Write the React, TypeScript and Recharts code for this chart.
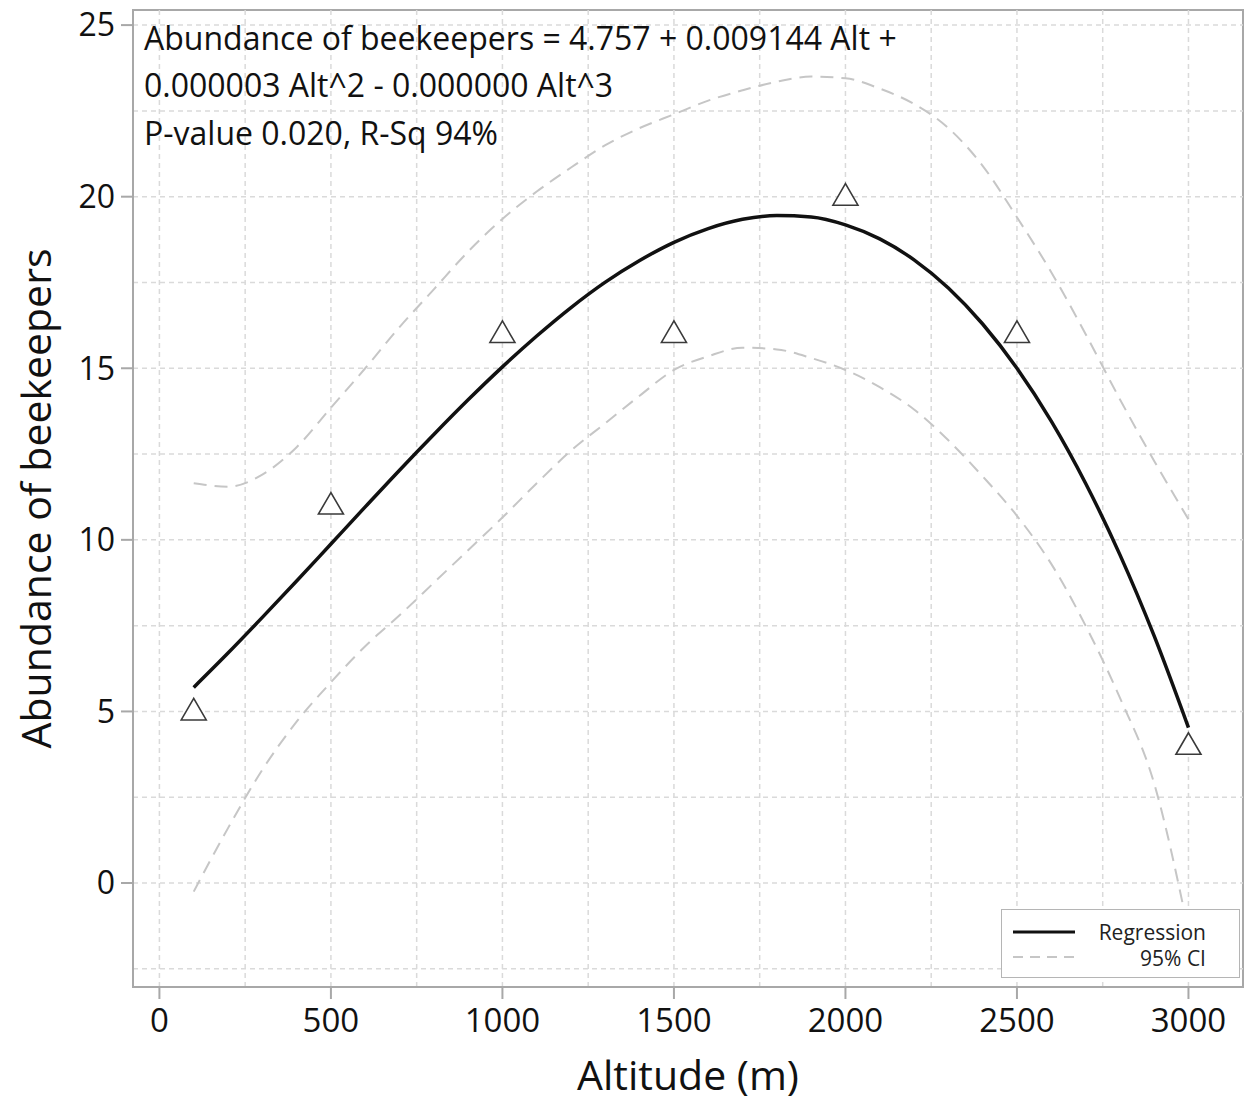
import React from "react";
import {
  ComposedChart,
  Line,
  Scatter,
  XAxis,
  YAxis,
  ReferenceLine,
  ReferenceArea,
} from "recharts";

// fitted curve, every 100 m
const altGrid = [
  100, 200, 300, 400, 500, 600, 700, 800, 900, 1000, 1100, 1200, 1300, 1400, 1500,
  1600, 1700, 1800, 1900, 2000, 2100, 2200, 2300, 2400, 2500, 2600, 2700, 2800, 2900, 3000,
];
const regression = [
  5.7, 6.7, 7.74, 8.8, 9.88, 10.96, 12.03, 13.07, 14.08, 15.04, 15.94, 16.77, 17.51, 18.14, 18.67,
  19.07, 19.34, 19.45, 19.41, 19.18, 18.77, 18.16, 17.34, 16.29, 15.0, 13.46, 11.65, 9.57, 7.2, 4.53,
];
const ciUpper = [
  11.65, 11.55, 11.9, 12.7, 13.85, 15.0, 16.2, 17.3, 18.4, 19.35, 20.15, 20.85, 21.5, 22.0, 22.4,
  22.8, 23.1, 23.35, 23.5, 23.45, 23.15, 22.7, 22.0, 20.9, 19.4, 17.8, 16.0, 14.1, 12.3, 10.6,
];
const ciLower = [
  -0.25, 1.6, 3.3, 4.7, 5.85, 6.9, 7.8, 8.75, 9.7, 10.65, 11.65, 12.6, 13.4, 14.2, 14.95,
  15.35, 15.6, 15.55, 15.3, 14.95, 14.45, 13.8, 12.9, 11.85, 10.7, 9.3, 7.5, 5.4, 2.9, -1.4,
];

// observed points
const pointAlt = [100, 500, 1000, 1500, 2000, 2500, 3000];
const pointAbundance = [5, 11, 16, 16, 20, 16, 4];

const xTicks = [0, 500, 1000, 1500, 2000, 2500, 3000];
const yTicks = [0, 5, 10, 15, 20, 25];
const xGrid = [0, 250, 500, 750, 1000, 1250, 1500, 1750, 2000, 2250, 2500, 2750, 3000];
const yGrid = [-2.5, 0, 2.5, 5, 7.5, 10, 12.5, 15, 17.5, 20, 22.5, 25];
const xDomain = [-77, 3159];
const yDomain = [-3.03, 25.44];

const equationLines = [
  "Abundance of beekeepers = 4.757 + 0.009144 Alt +",
  "0.000003 Alt^2 - 0.000000 Alt^3",
  "P-value 0.020, R-Sq 94%",
];

const curveRows = altGrid.map((alt, i) => ({
  alt,
  fit: regression[i],
  upper: ciUpper[i],
  lower: ciLower[i],
}));
const pointRows = pointAlt.map((alt, i) => ({ alt, y: pointAbundance[i] }));

const FONT = "'Open Sans', 'Noto Sans', sans-serif";
const AXIS_GRAY = "#a8a8a8";

const Triangle = (props: any) => {
  const { cx, cy } = props;
  return (
    <polygon
      points={`${cx},${cy - 13} ${cx - 12.5},${cy + 8.5} ${cx + 12.5},${cy + 8.5}`}
      fill="#fff"
      stroke="#3a3a3a"
      strokeWidth={1.6}
    />
  );
};

const YTitle = (props: any) => {
  const { viewBox } = props;
  const cx = 35;
  const cy = viewBox.y + viewBox.height / 2;
  return (
    <text
      x={cx}
      y={cy}
      transform={`rotate(-90, ${cx}, ${cy})`}
      textAnchor="middle"
      dominantBaseline="central"
      fill="#111"
      fontSize={41}
      fontFamily={FONT}
    >
      Abundance of beekeepers
    </text>
  );
};

export default function App() {
  return (
    <div style={{ position: "absolute", left: 0, top: 0, width: 1251, height: 1101, background: "#fff" }}>
      <ComposedChart
        width={1251}
        height={1101}
        margin={{ top: 10, right: 8, bottom: 0, left: 0 }}
        style={{ fontFamily: FONT }}
      >
        <XAxis
          type="number"
          dataKey="alt"
          domain={xDomain}
          ticks={xTicks}
          interval={0}
          allowDataOverflow
          height={114}
          tickSize={12}
          tickMargin={10}
          stroke={AXIS_GRAY}
          strokeWidth={2}
          tick={{ fill: "#111", fontSize: 33 }}
          label={{ value: "Altitude (m)", position: "insideBottom", offset: 11, fill: "#111", fontSize: 41 }}
        />
        <YAxis
          type="number"
          domain={yDomain}
          ticks={yTicks}
          interval={0}
          allowDataOverflow
          width={133}
          tickSize={12}
          tickMargin={6}
          stroke={AXIS_GRAY}
          strokeWidth={2}
          tick={{ fill: "#111", fontSize: 32 }}
          label={<YTitle />}
        />
        {xGrid.map((v) => (
          <ReferenceLine key={"gx" + v} x={v} stroke="#dadada" strokeWidth={1.5} strokeDasharray="5 4" />
        ))}
        {yGrid.map((v) => (
          <ReferenceLine key={"gy" + v} y={v} stroke="#dadada" strokeWidth={1.5} strokeDasharray="5 4" />
        ))}
        <ReferenceArea
          x1={xDomain[0]}
          x2={xDomain[1]}
          y1={yDomain[0]}
          y2={yDomain[1]}
          fill="none"
          stroke={AXIS_GRAY}
          strokeWidth={2}
        />
        <Line
          data={curveRows}
          dataKey="upper"
          type="monotone"
          stroke="#c6c6c6"
          strokeWidth={2}
          strokeDasharray="13 8"
          dot={false}
          isAnimationActive={false}
        />
        <Line
          data={curveRows}
          dataKey="lower"
          type="monotone"
          stroke="#c6c6c6"
          strokeWidth={2}
          strokeDasharray="13 8"
          dot={false}
          isAnimationActive={false}
        />
        <Line
          data={curveRows}
          dataKey="fit"
          type="monotone"
          stroke="#111"
          strokeWidth={3.5}
          dot={false}
          isAnimationActive={false}
        />
        <Scatter data={pointRows} dataKey="y" shape={<Triangle />} isAnimationActive={false} />
      </ComposedChart>

      {equationLines.map((t, i) => (
        <div
          key={t}
          style={{
            position: "absolute",
            left: 144,
            top: [18, 65, 113][i],
            fontFamily: FONT,
            fontSize: 32,
            lineHeight: "40px",
            color: "#111",
            whiteSpace: "nowrap",
          }}
        >
          {t}
        </div>
      ))}

      <div
        style={{
          position: "absolute",
          left: 1001,
          top: 909,
          width: 237,
          height: 67,
          background: "#fff",
          border: "1.5px solid #b5b5b5",
          fontFamily: FONT,
          fontSize: 21,
          color: "#222",
        }}
      >
        <svg width={80} height={67} style={{ position: "absolute", left: 0, top: 0 }}>
          <line x1={11} x2={73} y1={22} y2={22} stroke="#111" strokeWidth={3} />
          <line x1={11} x2={73} y1={47} y2={47} stroke="#c6c6c6" strokeWidth={2} strokeDasharray="10 7" />
        </svg>
        <div style={{ position: "absolute", right: 33, top: 10, lineHeight: "24px" }}>Regression</div>
        <div style={{ position: "absolute", right: 33, top: 36, lineHeight: "24px" }}>95% CI</div>
      </div>
    </div>
  );
}
